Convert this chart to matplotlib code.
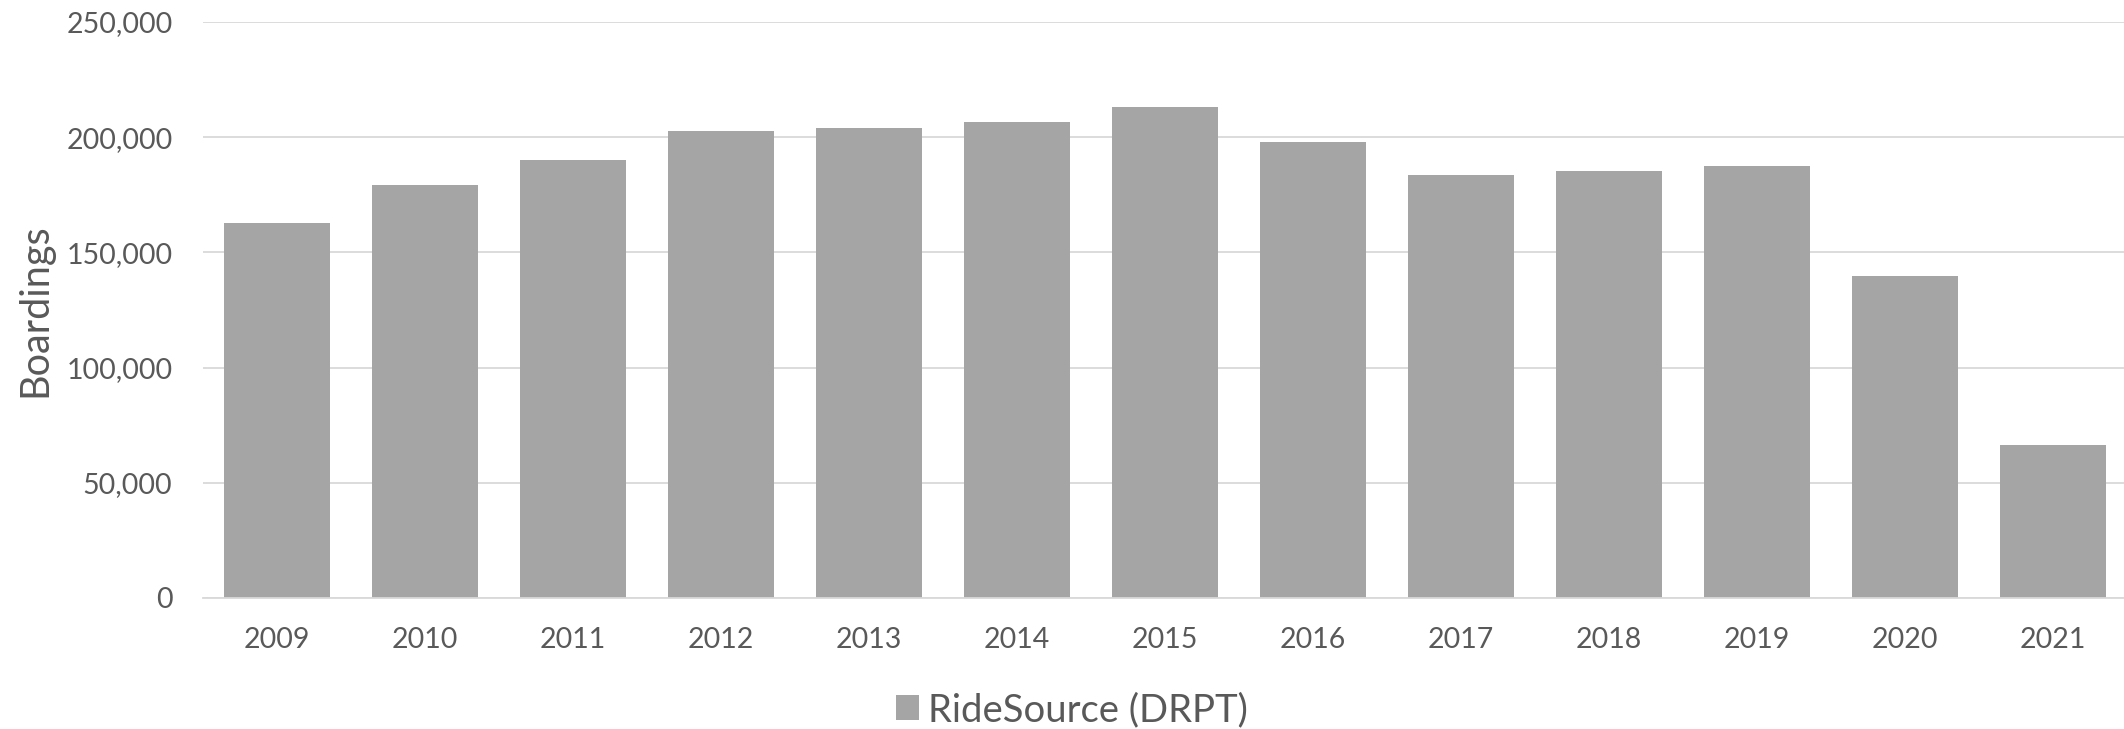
import matplotlib
matplotlib.use("Agg")
import matplotlib.pyplot as plt
from matplotlib.ticker import FuncFormatter

# data
years = ['2009', '2010', '2011', '2012', '2013', '2014', '2015',
         '2016', '2017', '2018', '2019', '2020', '2021']
boardings = [162600, 179200, 189900, 202800, 203800, 206600, 213300,
             197900, 183800, 185200, 187500, 139600, 66200]
series_name = 'RideSource (DRPT)'
y_ticks = [0, 50000, 100000, 150000, 200000, 250000]

text_color = '#595959'
grid_color = '#D9D9D9'
bar_color = '#A5A5A5'

plt.rcParams['font.family'] = ['Lato', 'DejaVu Sans']

fig = plt.figure(figsize=(21.24, 7.29), dpi=100)
ax = fig.add_axes([203 / 2124, 131 / 729, 1924 / 2124, 576 / 729])

x = range(len(years))
ax.bar(x, boardings, width=0.71, color=bar_color, zorder=3, label=series_name)

ax.set_xlim(-0.5, len(years) - 0.5)
ax.set_ylim(0, 250000)
ax.set_yticks(y_ticks)
ax.yaxis.set_major_formatter(FuncFormatter(lambda v, p: f'{int(v):,}'))
ax.set_xticks(list(x))
ax.set_xticklabels(years)

ax.grid(axis='y', color=grid_color, linewidth=1.3, zorder=0)
for side in ['top', 'right', 'left']:
    ax.spines[side].set_visible(False)
ax.spines['bottom'].set_color(grid_color)
ax.spines['bottom'].set_linewidth(1.3)
ax.spines['bottom'].set_zorder(4)

ax.tick_params(axis='both', length=0, colors=text_color, labelsize=20.5)
ax.tick_params(axis='y', pad=22)
ax.tick_params(axis='x', pad=21)

ax.set_ylabel('Boardings', fontsize=28.5, color=text_color, labelpad=9)

fig.legend(loc='center', bbox_to_anchor=(1072 / 2124, 1 - 710 / 729),
           frameon=False, fontsize=27.5, labelcolor=text_color,
           handlelength=0.6, handleheight=0.6, handletextpad=0.25)

fig.savefig('out.png', dpi=100)
